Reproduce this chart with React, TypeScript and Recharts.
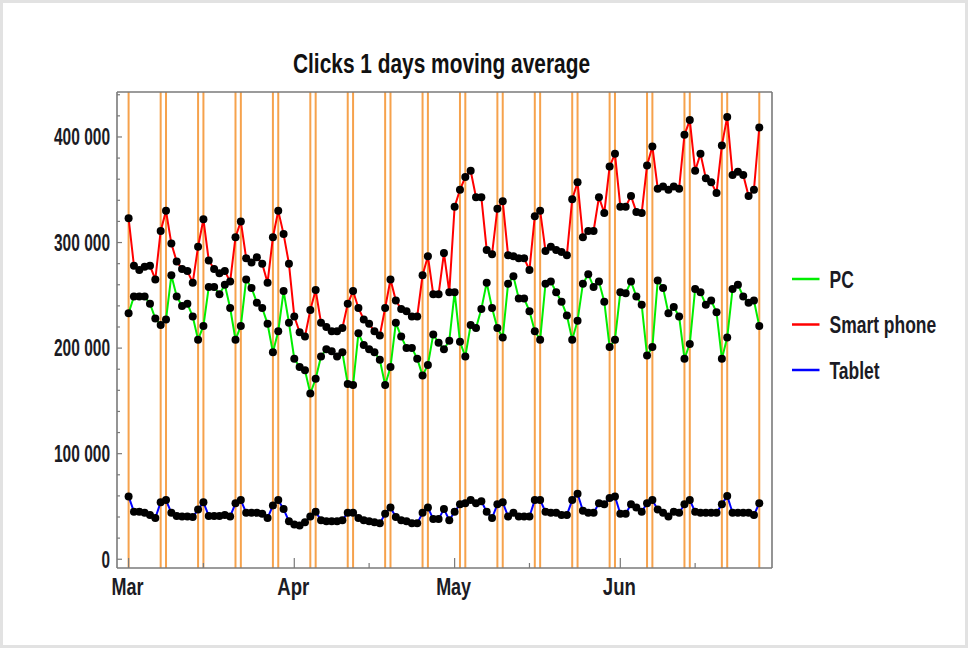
import React from 'react';
import { LineChart, Line, XAxis, YAxis, ReferenceLine, Legend } from 'recharts';

// daily clicks, one value per day starting Sun 1 Mar
const smartPhone = [
  323000, 278000, 274000, 277000, 278000, 265000, 311000, 330000, 299000, 282000,
  275000, 273000, 262000, 296000, 322000, 283000, 275000, 271000, 273000, 263000,
  305000, 320000, 285000, 281000, 286000, 280000, 262000, 305000, 330000, 308000,
  280000, 230000, 215000, 211000, 236000, 255000, 224000, 220000, 216000, 216000,
  219000, 242000, 254000, 238000, 227000, 223000, 216000, 212000, 238000, 265000,
  245000, 237000, 235000, 230000, 230000, 269000, 287000, 251000, 251000, 290000,
  253000, 334000, 350000, 362000, 368000, 343000, 343000, 293000, 289000, 332000,
  339000, 288000, 287000, 285000, 285000, 274000, 325000, 330000, 292000, 296000,
  293000, 291000, 288000, 341000, 357000, 305000, 311000, 311000, 343000, 328000,
  372000, 384000, 334000, 334000, 344000, 329000, 328000, 373000, 391000, 351000,
  353000, 350000, 353000, 351000, 402000, 416000, 368000, 384000, 361000, 357000,
  347000, 392000, 419000, 364000, 367000, 364000, 344000, 350000, 409000,
];

const pc = [
  233000, 249000, 249000, 249000, 242000, 228000, 222000, 227000, 269000, 249000,
  240000, 242000, 230000, 208000, 221000, 258000, 258000, 251000, 260000, 238000,
  208000, 221000, 265000, 257000, 243000, 238000, 223000, 196000, 216000, 254000,
  224000, 190000, 182000, 179000, 157000, 171000, 192000, 199000, 197000, 192000,
  196000, 166000, 165000, 214000, 203000, 199000, 196000, 189000, 165000, 182000,
  224000, 211000, 200000, 200000, 190000, 174000, 184000, 213000, 205000, 199000,
  207000, 253000, 206000, 192000, 222000, 219000, 237000, 262000, 238000, 219000,
  210000, 261000, 268000, 247000, 247000, 235000, 216000, 208000, 261000, 263000,
  253000, 244000, 231000, 208000, 226000, 261000, 270000, 258000, 263000, 244000,
  201000, 208000, 253000, 252000, 263000, 249000, 241000, 193000, 201000, 264000,
  257000, 233000, 239000, 230000, 190000, 204000, 256000, 253000, 241000, 245000,
  234000, 190000, 210000, 256000, 260000, 249000, 243000, 245000, 221000,
];

const tablet = [
  59500, 45000, 45000, 44000, 42000, 39000, 54000, 56000, 44000, 41000,
  40500, 40500, 40000, 47000, 54000, 41000, 41000, 41000, 42000, 40500,
  53000, 56000, 44000, 44000, 44000, 43000, 39000, 51000, 56000, 47500,
  36000, 33000, 32000, 35000, 40500, 45000, 37000, 36000, 36000, 36000,
  37000, 44000, 44000, 39000, 37000, 36000, 35000, 34000, 43000, 49000,
  40000, 37000, 36000, 34000, 34000, 44000, 49000, 38000, 38000, 47500,
  37000, 45000, 52000, 53000, 56000, 53000, 55000, 45000, 39000, 52000,
  54000, 40500, 44000, 40500, 40500, 40500, 56000, 56000, 45000, 44000,
  44000, 42000, 42000, 56000, 62000, 46000, 44000, 44000, 53000, 52000,
  58000, 59500, 43000, 43000, 52000, 49000, 45000, 53000, 56000, 47000,
  44000, 40500, 45000, 44000, 52000, 56000, 45000, 44000, 44000, 44000,
  44000, 52000, 60000, 44000, 44000, 44000, 44000, 42000, 53000,
];

// day index of every Saturday / Sunday
const weekendDays = [0, 6, 7, 13, 14, 20, 21, 27, 28, 34, 35, 41, 42, 48, 49, 55, 56,
  62, 63, 69, 70, 76, 77, 83, 84, 90, 91, 97, 98, 104, 105, 111, 112, 118];

const monthTicks = [0, 31, 61, 92];
const monthLabels = ['Mar', 'Apr', 'May', 'Jun'];
const midMonthTicks = [14, 45, 75, 106];
const yTicks = Array.from({ length: 23 }, (_, i) => i * 20000);

const seriesNames = ['PC', 'Smart phone', 'Tablet'];
const seriesColors = ['#00ee00', '#ff0000', '#0000ff'];

const data = pc.map((v, i) => ({ d: i, pc: v, sp: smartPhone[i], tab: tablet[i] }));

const X_DOMAIN = [-2.17, 120.38];
const Y_DOMAIN = [-8300, 442600];

const FONT = '"Liberation Sans Narrow", "Arial Narrow", "Liberation Sans", Arial, sans-serif';
const AXIS = '#7a7a7a';
const TXT = '#1b1b24';
const ORANGE = '#f6a24c';

const fmt = (v: number) => v.toLocaleString('en-US').replace(/,/g, ' ');

const BottomTick = (props: any) => {
  const { x, y, payload } = props;
  const idx = monthTicks.indexOf(payload.value);
  const major = idx >= 0;
  const widths = [32, 32, 35, 33];
  return (
    <g>
      <line x1={x} x2={x} y1={y} y2={y - (major ? 10 : 5)} stroke={AXIS} strokeWidth={1.2} />
      {major && (
        <text x={x - 1} y={y + 27} textAnchor="middle" fontFamily={FONT} fontSize={23}
          fontWeight="bold" fill={TXT} textLength={widths[idx]} lengthAdjust="spacingAndGlyphs">
          {monthLabels[idx]}
        </text>
      )}
    </g>
  );
};

const TopTick = (props: any) => {
  const { x, y, payload } = props;
  const major = monthTicks.includes(payload.value);
  return <line x1={x} x2={x} y1={y} y2={y + (major ? 10 : 4)} stroke={AXIS} strokeWidth={1.2} />;
};

const LeftTick = (props: any) => {
  const { x, y, payload } = props;
  const major = payload.value % 100000 === 0;
  const label = fmt(payload.value);
  return (
    <g>
      <line x1={x} x2={x + (major ? 5 : 3)} y1={y} y2={y} stroke={AXIS} strokeWidth={1.2} />
      {major && (
        <text x={x - 7} y={y + 8.3} textAnchor="end" fontFamily={FONT} fontSize={23}
          fontWeight="bold" fill={TXT} textLength={label.length > 1 ? 56 : 8.5}
          lengthAdjust="spacingAndGlyphs">
          {label}
        </text>
      )}
    </g>
  );
};

const RightTick = (props: any) => {
  const { x, y, payload } = props;
  const major = payload.value % 100000 === 0;
  return <line x1={x} x2={x - (major ? 5 : 3)} y1={y} y2={y} stroke={AXIS} strokeWidth={1.2} />;
};

// legend labels are drawn condensed, like the narrow font of the original
const LegendBox = () => (
  <svg width={188} height={140}>
    {seriesNames.map((name, i) => (
      <g key={name} transform={`translate(0, ${i * 45.5})`}>
        <line x1={12} x2={39.5} y1={29} y2={29} stroke={seriesColors[i]} strokeWidth={2.5} />
        <text transform="translate(49.5, 37.5) scale(0.76, 1)" fontFamily={FONT} fontSize={23}
          fontWeight="bold" fill={TXT}>
          {name}
        </text>
      </g>
    ))}
  </svg>
);

const dotStyle = { r: 4, fill: '#000', stroke: '#000', strokeWidth: 0 };

export default function App() {
  return (
    <div style={{ position: 'fixed', left: 0, top: 0, width: 968, height: 648, background: '#fff' }}>
      <svg width={968} height={92} style={{ position: 'absolute', left: 0, top: 0 }}>
        <text x={441.5} y={73} textAnchor="middle" fontFamily={FONT} fontSize={28} fontWeight="bold"
          fill="#111" textLength={297} lengthAdjust="spacingAndGlyphs">
          Clicks 1 days moving average
        </text>
      </svg>
      <div style={{ position: 'absolute', left: 0, top: 0 }}>
        <LineChart width={968} height={648} data={data}
          margin={{ top: 92, right: 196, bottom: 0, left: 0 }}>
          <XAxis xAxisId="b" dataKey="d" type="number" domain={X_DOMAIN} allowDataOverflow
            ticks={[...monthTicks, ...midMonthTicks]} interval={0} height={80}
            tickSize={0} tickMargin={0} tick={<BottomTick />}
            axisLine={{ stroke: AXIS, strokeWidth: 1.6 }} tickLine={false} />
          <XAxis xAxisId="t" dataKey="d" type="number" orientation="top" domain={X_DOMAIN}
            allowDataOverflow ticks={[...monthTicks, ...midMonthTicks]} interval={0} height={0}
            tickSize={0} tickMargin={0} tick={<TopTick />}
            axisLine={{ stroke: AXIS, strokeWidth: 1.6 }} tickLine={false} />
          <YAxis yAxisId="l" type="number" domain={Y_DOMAIN} allowDataOverflow ticks={yTicks}
            interval={0} width={117} tickSize={0} tickMargin={0} tick={<LeftTick />}
            axisLine={{ stroke: AXIS, strokeWidth: 1.6 }} tickLine={false} />
          <YAxis yAxisId="r" orientation="right" type="number" domain={Y_DOMAIN}
            allowDataOverflow ticks={yTicks} interval={0} width={0} tickSize={0} tickMargin={0}
            tick={<RightTick />} axisLine={{ stroke: AXIS, strokeWidth: 1.6 }} tickLine={false} />
          {weekendDays.map((d) => (
            <ReferenceLine key={d} x={d} xAxisId="b" yAxisId="l" stroke={ORANGE} strokeWidth={2} />
          ))}
          {/* frame: top and right edges */}
          <ReferenceLine y={Y_DOMAIN[1]} xAxisId="b" yAxisId="l" stroke={AXIS} strokeWidth={1.6} />
          <ReferenceLine x={X_DOMAIN[1]} xAxisId="b" yAxisId="l" stroke={AXIS} strokeWidth={1.6} />
          <Line xAxisId="b" yAxisId="l" type="linear" dataKey="pc" name="PC" stroke={seriesColors[0]}
            strokeWidth={2} dot={dotStyle} isAnimationActive={false} />
          <Line xAxisId="b" yAxisId="l" type="linear" dataKey="sp" name="Smart phone"
            stroke={seriesColors[1]} strokeWidth={2} dot={dotStyle} isAnimationActive={false} />
          <Line xAxisId="b" yAxisId="l" type="linear" dataKey="tab" name="Tablet"
            stroke={seriesColors[2]} strokeWidth={2} dot={dotStyle} isAnimationActive={false} />
          <Legend layout="vertical" align="center" verticalAlign="middle" content={<LegendBox />}
            wrapperStyle={{ position: 'absolute', left: 780, top: 250, width: 188, height: 140 }} />
        </LineChart>
      </div>
      <div style={{ position: 'absolute', left: 0, top: 0, width: 968, height: 648,
        boxSizing: 'border-box', border: '3px solid #e2e2e2', pointerEvents: 'none' }} />
    </div>
  );
}
